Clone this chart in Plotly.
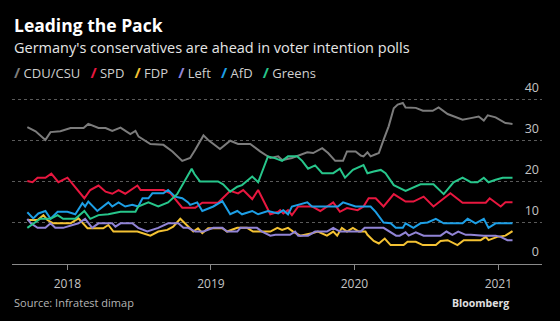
import plotly.graph_objects as go

# ---------------- data ----------------
cdu_dates = ["2017-09-21","2017-10-12","2017-11-06","2017-11-19","2017-12-14","2018-01-09","2018-02-11","2018-02-23",
             "2018-03-21","2018-04-08","2018-04-25","2018-05-16","2018-06-10","2018-06-23","2018-07-01","2018-07-31",
             "2018-09-02","2018-09-25","2018-10-20","2018-11-09","2018-11-22","2018-12-13","2018-12-25","2019-01-24",
             "2019-02-19","2019-03-11","2019-04-11","2019-05-06","2019-06-01","2019-06-21","2019-07-01","2019-07-26",
             "2019-09-03","2019-09-18","2019-10-11","2019-10-26","2019-11-13","2019-12-03","2019-12-13","2020-01-04",
             "2020-01-17","2020-01-24","2020-02-03","2020-02-11","2020-02-24","2020-03-03","2020-03-15","2020-03-28",
             "2020-04-10","2020-04-20","2020-05-03","2020-05-10","2020-06-05","2020-06-23","2020-07-18","2020-08-02",
             "2020-08-25","2020-09-09","2020-10-02","2020-10-23","2020-11-12","2020-11-25","2020-12-05","2020-12-25",
             "2021-01-19","2021-02-06"]
cdu_values = [33.3,32.3,30.2,32.1,32.3,33.1,33.1,34.1,
              33.1,33.1,32.4,33.2,31.6,32.4,31.0,29.2,
              29.0,27.4,25.1,25.8,27.8,31.3,30.2,28.0,
              30.0,29.2,29.2,27.4,25.8,26.2,25.3,25.8,
              27.2,27.0,28.2,27.0,25.1,25.1,27.4,27.4,
              26.4,26.2,27.2,26.2,26.7,27.0,30.2,33.5,
              37.9,38.8,39.2,38.1,38.0,37.3,37.3,38.1,
              36.5,35.9,35.1,35.5,35.9,34.9,36.2,35.7,
              34.3,34.1]

spd_dates = ["2017-09-21","2017-10-04","2017-10-17","2017-11-06","2017-11-21","2017-12-09","2018-01-01","2018-01-21",
             "2018-02-13","2018-02-28","2018-03-21","2018-04-08","2018-04-25","2018-05-11","2018-05-28","2018-06-28",
             "2018-07-06","2018-09-02","2018-09-20","2018-10-20","2018-11-22","2018-12-10","2019-01-19","2019-02-19",
             "2019-03-11","2019-03-24","2019-04-16","2019-05-01","2019-06-01","2019-06-21","2019-06-26","2019-07-04",
             "2019-07-16","2019-07-26","2019-08-11","2019-09-15","2019-10-06","2019-11-08","2019-11-25","2019-12-13",
             "2020-01-09","2020-01-24","2020-02-06","2020-02-24","2020-03-15","2020-04-10","2020-05-10","2020-05-30",
             "2020-06-25","2020-07-20","2020-09-01","2020-10-02","2020-11-30","2020-12-10","2021-01-07","2021-01-19",
             "2021-02-06"]
spd_values = [20.2,19.9,21.0,21.0,22.0,19.9,21.0,18.8,
              16.0,18.0,19.1,17.6,17.1,18.0,17.1,19.1,
              18.0,18.0,17.2,13.7,13.7,14.9,14.9,17.8,
              17.2,18.0,15.8,18.0,12.1,12.7,13.1,12.3,
              13.1,11.9,14.0,14.0,12.9,15.0,12.7,13.6,
              13.1,14.0,16.0,16.0,14.0,17.0,15.2,15.2,
              16.4,14.0,17.2,14.9,14.9,16.0,14.0,15.0,
              15.0]

fdp_dates = ["2017-09-21","2017-10-17","2017-11-01","2017-11-11","2017-11-26","2018-01-09","2018-01-29","2018-02-21",
             "2018-04-02","2018-04-15","2018-04-28","2018-06-28","2018-07-31","2018-08-20","2018-09-12","2018-09-27",
             "2018-10-15","2018-11-04","2018-11-17","2018-11-29","2018-12-10","2018-12-25","2019-01-30","2019-02-11",
             "2019-03-09","2019-04-03","2019-04-18","2019-06-01","2019-06-19","2019-07-01","2019-07-16","2019-07-29",
             "2019-08-16","2019-09-15","2019-09-30","2019-10-23","2019-11-08","2019-11-18","2019-11-30","2019-12-13",
             "2019-12-28","2020-01-12","2020-01-29","2020-02-03","2020-02-19","2020-03-03","2020-03-18","2020-04-02",
             "2020-05-05","2020-05-15","2020-06-05","2020-06-23","2020-07-26","2020-08-07","2020-08-25","2020-09-19",
             "2020-10-05","2020-11-17","2020-11-30","2020-12-07","2020-12-29","2021-01-19","2021-02-06"]
fdp_values = [10.7,10.7,11.9,10.7,9.9,9.9,11.1,8.7,
              8.7,9.5,7.9,7.9,6.9,7.9,8.3,9.1,
              11.0,9.1,7.9,8.7,7.5,8.7,8.7,7.9,
              8.8,8.8,7.9,7.9,8.8,8.3,8.8,7.9,
              6.9,7.5,7.9,6.9,7.9,6.9,8.8,7.9,
              8.8,7.9,7.9,7.1,5.6,5.0,6.2,4.6,
              4.6,5.4,5.4,4.6,4.6,5.6,5.8,4.6,
              5.8,5.8,6.6,5.8,6.6,6.9,8.0]

left_dates = ["2017-09-21","2017-09-30","2017-10-17","2017-11-06","2017-11-19","2017-12-01","2017-12-21","2018-01-29",
              "2018-02-15","2018-03-05","2018-03-21","2018-04-25","2018-05-03","2018-05-16","2018-06-15","2018-06-30",
              "2018-07-23","2018-08-20","2018-09-14","2018-10-10","2018-10-23","2018-11-04","2018-11-22","2018-12-13",
              "2019-01-07","2019-01-30","2019-02-11","2019-03-09","2019-03-17","2019-04-28","2019-05-11","2019-06-01",
              "2019-06-14","2019-07-21","2019-08-03","2019-08-11","2019-09-05","2019-09-23","2019-10-23","2019-11-08",
              "2019-11-25","2020-01-17","2020-01-27","2020-03-15","2020-04-16","2020-04-25","2020-05-10","2020-05-18",
              "2020-06-05","2020-06-25","2020-08-07","2020-08-22","2020-09-06","2020-09-21","2020-10-10","2020-10-23",
              "2020-11-25","2020-12-25","2021-01-07","2021-01-24","2021-02-06"]
left_values = [11.0,9.9,8.8,8.8,9.9,8.8,8.8,9.9,
               11.0,8.8,9.9,9.9,9.1,9.9,9.9,8.8,
               7.9,8.8,9.9,9.9,8.8,8.8,7.9,7.9,
               8.8,8.8,7.9,7.9,8.8,8.8,7.9,6.9,
               7.1,7.1,7.9,6.9,6.9,7.9,7.9,8.8,
               7.9,7.9,8.8,8.8,6.9,6.9,7.7,6.9,
               7.7,6.9,6.9,7.9,7.1,7.9,7.1,7.1,
               6.9,6.9,6.6,5.8,5.8]

afd_dates = ["2017-09-21","2017-10-06","2017-10-19","2017-11-06","2017-11-19","2017-12-07","2018-01-01","2018-01-21",
             "2018-02-08","2018-02-15","2018-02-23","2018-03-18","2018-04-15","2018-04-25","2018-05-11","2018-05-28",
             "2018-06-15","2018-06-30","2018-07-11","2018-07-26","2018-08-05","2018-09-02","2018-09-14","2018-10-02",
             "2018-10-20","2018-11-04","2018-11-09","2018-11-27","2018-12-10","2019-01-07","2019-01-30","2019-02-19",
             "2019-03-09","2019-03-21","2019-04-16","2019-05-01","2019-05-26","2019-06-21","2019-07-04","2019-07-16",
             "2019-07-26","2019-09-03","2019-09-15","2019-11-20","2019-12-03","2020-01-04","2020-02-11","2020-02-24",
             "2020-03-15","2020-04-02","2020-04-15","2020-05-03","2020-05-10","2020-05-30","2020-06-17","2020-07-05",
             "2020-07-26","2020-08-15","2020-09-01","2020-10-02","2020-10-15","2020-11-04","2020-11-25","2020-12-07",
             "2020-12-25","2021-02-06"]
afd_values = [12.6,11.1,12.3,12.9,11.0,12.7,12.7,12.1,
              14.8,14.0,15.2,12.9,15.0,14.0,15.0,14.0,
              14.4,14.0,16.0,16.0,17.2,17.2,18.0,16.4,
              16.0,15.0,14.4,15.0,12.9,14.0,15.3,12.1,
              12.9,12.1,12.9,12.1,12.9,12.3,13.1,12.1,
              14.0,15.0,14.0,14.0,15.0,14.0,14.0,12.7,
              10.1,9.9,8.8,8.8,9.9,8.8,9.9,10.1,
              11.0,9.9,9.9,9.9,11.0,9.9,11.0,8.8,
              9.9,9.9]

greens_dates = ["2017-09-21","2017-10-06","2017-10-24","2017-11-19","2017-12-07","2017-12-21","2018-01-21","2018-02-13",
                "2018-02-28","2018-03-21","2018-04-15","2018-05-16","2018-06-23","2018-06-30","2018-07-26","2018-08-20",
                "2018-09-14","2018-10-07","2018-10-28","2018-11-13","2018-11-20","2018-12-04","2019-01-19","2019-02-01",
                "2019-02-19","2019-03-09","2019-03-21","2019-04-16","2019-05-01","2019-05-26","2019-06-14","2019-07-01",
                "2019-07-16","2019-08-08","2019-08-21","2019-09-05","2019-09-23","2019-10-11","2019-11-08","2019-11-25",
                "2019-12-08","2019-12-28","2020-01-24","2020-02-03","2020-02-19","2020-03-08","2020-03-20","2020-04-10",
                "2020-05-10","2020-06-17","2020-07-20","2020-08-15","2020-09-09","2020-10-02","2020-10-23","2020-11-09",
                "2020-11-25","2020-12-07","2020-12-25","2021-01-12","2021-02-06"]
greens_values = [8.8,9.9,11.0,11.0,11.9,11.0,11.0,12.9,
                 11.0,11.9,12.1,12.7,12.7,14.0,15.0,14.0,
                 15.0,17.0,20.5,23.2,21.9,20.1,20.1,19.4,
                 17.6,18.8,19.2,21.3,19.9,26.2,25.7,25.1,
                 26.2,26.2,25.1,23.2,24.0,22.1,22.1,23.2,
                 21.0,22.9,24.1,22.1,22.5,22.9,22.1,19.2,
                 17.8,19.4,19.4,17.0,19.9,21.0,19.9,19.9,
                 21.0,19.9,20.5,21.0,21.0]

party_names = ["CDU/CSU", "SPD", "FDP", "Left", "AfD", "Greens"]
y_ticks = [0, 10, 20, 30, 40]
x_ticks = ["2018-01-01", "2019-01-01", "2020-01-01", "2021-01-01"]
x_tick_labels = ["2018", "2019", "2020", "2021"]

# ---------------- styling ----------------
colors = ["#7c7c7c", "#e8173f", "#f4c233", "#9184d6", "#1d9fe6", "#27c68b"]
series = [(cdu_dates, cdu_values), (spd_dates, spd_values), (fdp_dates, fdp_values),
          (left_dates, left_values), (afd_dates, afd_values), (greens_dates, greens_values)]
FONT = "Open Sans"

fig = go.Figure()
for name, (d, v), c in zip(party_names, series, colors):
    fig.add_trace(go.Scatter(x=d, y=v, mode="lines", name=name,
                             line=dict(color=c, width=2), showlegend=False))

# plot area: y=0 at 264px, y=40 at 100px (4.1 px per point); range top extended to 46
Y_TOP = 46
PLOT_TOP = 264 - Y_TOP * 4.1
PLOT_H = 264 - PLOT_TOP
fig.update_layout(
    width=560, height=321,
    paper_bgcolor="#000000", plot_bgcolor="#000000",
    margin=dict(l=12, r=18, t=PLOT_TOP, b=57),
    font=dict(family=FONT, color="#bdbdbd", size=12),
)
fig.update_xaxes(
    type="date", range=["2017-08-13", "2021-04-22"],
    tickvals=x_ticks, ticktext=x_tick_labels,
    showgrid=False, zeroline=False,
    showline=True, linecolor="#8a8a8a", linewidth=1,
    ticks="outside", ticklen=5, tickcolor="#8a8a8a",
    ticklabelstandoff=4,
    tickfont=dict(family=FONT, size=12, color="#c4c4c4"),
)
fig.update_yaxes(
    range=[0, Y_TOP], tickvals=y_ticks,
    side="right", ticklabelposition="inside", ticklabelshift=-12,
    showgrid=True, gridcolor="#5a5a5a", griddash="dot", gridwidth=1,
    zeroline=False, showline=False, ticks="",
    tickfont=dict(family=FONT, size=12.5, color="#c4c4c4"),
)

legend_html = "&nbsp;&nbsp;&nbsp;".join(
    f"<span style='color:{c};font-size:15px'><b>/</b></span>&nbsp;{n}" for n, c in zip(party_names, colors))


def py(Y):
    """paper y for a pixel row Y of the page"""
    return (264 - Y) / PLOT_H


annotations = [
    dict(text="<b>Leading the Pack</b>", x=0, y=py(26), font=dict(size=17.5, color="#ffffff", family=FONT)),
    dict(text="Germany's conservatives are ahead in voter intention polls", x=0, y=py(47.5),
         font=dict(size=14.5, color="#e6e6e6", family=FONT)),
    dict(text=legend_html, x=0, y=py(72), font=dict(size=13, color="#cfcfcf", family=FONT)),
    dict(text="Source: Infratest dimap", x=0, y=py(302), font=dict(size=11, color="#b5b5b5", family=FONT)),
]
for a in annotations:
    a.update(xref="paper", yref="paper", xanchor="left", yanchor="middle", showarrow=False)
    fig.add_annotation(**a)
fig.add_annotation(text="<b>Bloomberg</b>", x=(511 - 12) / 530, y=py(303), xref="paper", yref="paper",
                   xanchor="right", yanchor="middle", showarrow=False,
                   font=dict(size=10.5, color="#e0e0e0", family=FONT))

fig.write_html("out.html")
